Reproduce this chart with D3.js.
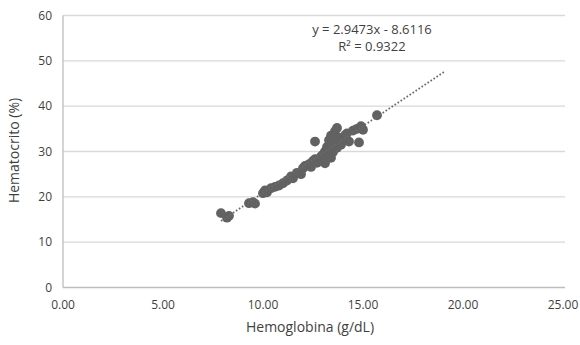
<!DOCTYPE html>
<html>
<head>
<meta charset="utf-8">
<script src="https://cdn.jsdelivr.net/npm/d3@7"></script>
<style>
  body { margin: 0; background: #fff; }
  text { font-family: "Open Sans", "Noto Sans", sans-serif; fill: #3f3f3f; }
</style>
</head>
<body>
<div id="chart"></div>
<script>
// Hemoglobina (g/dL) vs Hematocrito (%)
var hb  = [7.9, 8.2, 8.3, 9.3, 9.5, 9.6, 10.0, 10.1, 10.2, 10.4, 10.6, 10.8, 11.0, 11.2, 11.4, 11.5,
           11.7, 11.9, 12.0, 12.1, 12.3, 12.4, 12.5, 12.6, 12.7, 12.8, 12.9, 12.6, 13.0, 13.0, 13.1, 13.1,
           13.2, 13.2, 13.3, 13.3, 13.4, 13.4, 13.5, 13.5, 13.6, 13.6, 13.7, 13.7, 13.8, 13.9, 14.0, 14.1,
           14.2, 14.3, 14.5, 14.7, 14.8, 14.9, 15.0, 15.7];
var hct = [16.4, 15.4, 15.8, 18.6, 18.8, 18.5, 20.8, 21.4, 21.0, 21.9, 22.2, 22.5, 23.0, 23.6, 24.5, 24.1,
           25.3, 25.0, 26.3, 26.8, 27.2, 26.6, 27.9, 28.3, 27.5, 28.0, 28.9, 32.2, 29.3, 28.5, 30.0, 27.4,
           31.0, 29.6, 32.5, 30.4, 28.6, 33.5, 31.6, 29.9, 34.5, 32.2, 35.2, 30.8, 33.0, 31.5, 32.8, 33.6,
           34.0, 32.2, 34.6, 35.0, 32.0, 35.6, 34.8, 38.0];
var xTicks = [0, 5, 10, 15, 20, 25];
var yTicks = [0, 10, 20, 30, 40, 50, 60];
var slope = 2.9473, intercept = -8.6116, r2 = 0.9322;
var trendRange = [7.9, 19.1];

var margin = {top: 15.5, right: 15, bottom: 57.5, left: 63},
    width = 580 - margin.left - margin.right,
    height = 345 - margin.top - margin.bottom;

var x = d3.scaleLinear().domain([0, 25]).range([0, 500]);
var y = d3.scaleLinear().domain([0, 60]).range([height, 0]);

var svg = d3.select("#chart")
    .append("svg")
        .attr("width", 580)
        .attr("height", 345)
    .append("g")
        .attr("transform", "translate(" + margin.left + "," + margin.top + ")");

// gridlines
svg.selectAll(".grid")
    .data(yTicks.filter(function(d) { return d > 0; }))
    .enter().append("line")
    .attr("x1", 0).attr("x2", width)
    .attr("y1", function(d) { return y(d); })
    .attr("y2", function(d) { return y(d); })
    .attr("stroke", "#d9d9d9")
    .attr("stroke-width", 1.3);

// axis lines
svg.append("line")
    .attr("x1", 0).attr("x2", 0).attr("y1", 0).attr("y2", height)
    .attr("stroke", "#bdbdbd").attr("stroke-width", 1.3);
svg.append("line")
    .attr("x1", 0).attr("x2", width).attr("y1", height).attr("y2", height)
    .attr("stroke", "#bdbdbd").attr("stroke-width", 1.3);

// tick labels
svg.selectAll(".ylab")
    .data(yTicks)
    .enter().append("text")
    .attr("x", -11)
    .attr("y", function(d) { return y(d); })
    .attr("dy", "0.35em")
    .attr("text-anchor", "end")
    .style("font-size", "12px")
    .text(function(d) { return d; });

svg.selectAll(".xlab")
    .data(xTicks)
    .enter().append("text")
    .attr("x", function(d) { return x(d); })
    .attr("y", height + 21)
    .attr("text-anchor", "middle")
    .style("font-size", "12px")
    .text(function(d) { return d3.format(".2f")(d); });

// axis titles
svg.append("text")
    .attr("x", 247)
    .attr("y", height + 44)
    .attr("text-anchor", "middle")
    .style("font-size", "14px")
    .text("Hemoglobina (g/dL)");

svg.append("text")
    .attr("transform", "translate(-44," + (height / 2 - 1) + ") rotate(-90)")
    .attr("text-anchor", "middle")
    .style("font-size", "14px")
    .text("Hematocrito (%)");

// points
svg.selectAll("circle")
    .data(hb.map(function(d, i) { return {x: d, y: hct[i]}; }))
    .enter().append("circle")
    .attr("r", 4.9)
    .attr("cx", function(d) { return x(d.x); })
    .attr("cy", function(d) { return y(d.y); })
    .attr("fill", "#626262");

// trendline
svg.append("line")
    .attr("x1", x(trendRange[0]))
    .attr("y1", y(slope * trendRange[0] + intercept))
    .attr("x2", x(trendRange[1]))
    .attr("y2", y(slope * trendRange[1] + intercept))
    .attr("stroke", "#6a6a6a")
    .attr("stroke-width", 1.8)
    .attr("stroke-dasharray", "1.6,2");

// equation
svg.append("text")
    .attr("x", 309)
    .attr("y", 18)
    .attr("text-anchor", "middle")
    .style("font-size", "13px")
    .text("y = " + slope + "x - " + Math.abs(intercept));

svg.append("text")
    .attr("x", 309)
    .attr("y", 35)
    .attr("text-anchor", "middle")
    .style("font-size", "13px")
    .text("R² = " + r2);
</script>
</body>
</html>
